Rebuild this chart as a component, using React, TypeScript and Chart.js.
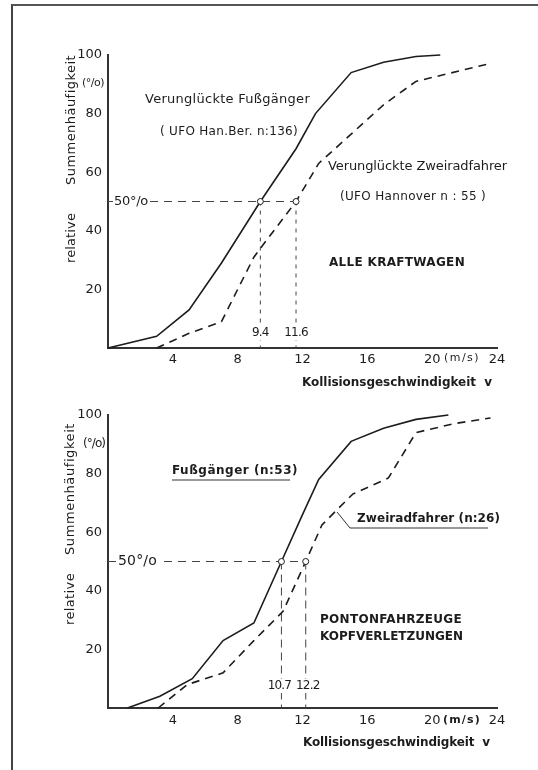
import React, { useEffect, useRef } from 'react';
import { Chart, registerables } from 'chart.js';

Chart.register(...registerables);

// ---- data ----
const xTicks = [4, 8, 12, 16, 20, 24];
const yTicks = [20, 40, 60, 80, 100];

const topPedX = [0, 3, 5, 7, 9.4, 11.6, 12.8, 15, 17, 19, 20.5];
const topPedY = [0, 4, 13, 29, 50, 68, 80, 94, 97.5, 99.5, 100];
const topCycX = [3, 5, 7, 9, 9.4, 11.6, 13, 15, 17, 19, 23.5];
const topCycY = [0, 5, 9, 31, 34, 50, 63, 73, 83, 91, 97];
const topMedians = [9.4, 11.6];
const topMedianLabels = ['9.4', '11.6'];

const botPedX = [1.2, 3.2, 5.2, 7.1, 9, 10.7, 12, 13, 15, 17, 19, 21];
const botPedY = [0, 4, 10, 23, 29, 50, 66, 78, 91, 95.5, 98.5, 100];
const botCycX = [3.1, 4.9, 7.1, 9, 10.8, 12.2, 13.2, 15.1, 17.3, 19, 21.3, 23.6];
const botCycY = [0, 8, 12, 23, 33, 50, 62.5, 73, 78.5, 94, 97, 99];
const botMedians = [10.7, 12.2];
const botMedianLabels = ['10.7', '12.2'];

const INK = '#1c1c1c';
const FONT = '"DejaVu Sans", sans-serif';

type Txt = { t: string; x0: number; x1: number; y: number; size?: number; bold?: boolean };
type Rot = { t: string; y0: number; y1: number; x: number; size?: number };

function drawFit(ctx: CanvasRenderingContext2D, t: string, x0: number, x1: number, y: number, size = 13, bold = false) {
  ctx.save();
  ctx.font = `${bold ? 'bold ' : ''}${size}px ${FONT}`;
  (ctx as any).letterSpacing = '0px';
  const w = ctx.measureText(t).width;
  let ls = (x1 - x0 - w) / Math.max(1, t.length);
  ls = Math.max(-1.5, Math.min(3, ls));
  (ctx as any).letterSpacing = `${ls}px`;
  ctx.fillStyle = INK;
  ctx.textAlign = 'left';
  ctx.textBaseline = 'middle';
  ctx.fillText(t, x0, y);
  ctx.restore();
}

interface PanelSpec {
  canvasTop: number;
  height: number;
  padTop: number;
  xAxisH: number;
  tickPad: number;
  pedX: number[];
  pedY: number[];
  cycX: number[];
  cycY: number[];
  medians: number[];
  medianLabels: string[];
  medianLabelY: number;
  medianLabelShift: number[];
  vDash: number[];
  texts: Txt[];
  rots: Rot[];
  pct: Txt;
  fifty: { x0: number; x1: number; size: number };
  decor: number[][][];
}

const panels: PanelSpec[] = [
  {
    canvasTop: 0,
    height: 390,
    padTop: 55,
    xAxisH: 42,
    tickPad: 4,
    pedX: topPedX,
    pedY: topPedY,
    cycX: topCycX,
    cycY: topCycY,
    medians: topMedians,
    medianLabels: topMedianLabels,
    medianLabelY: 333,
    medianLabelShift: [0, 0],
    vDash: [4, 5],
    texts: [
      { t: 'Verunglückte Fußgänger', x0: 145, x1: 310, y: 100, size: 13 },
      { t: '( UFO Han.Ber. n:136)', x0: 160, x1: 298, y: 132, size: 12 },
      { t: 'Verunglückte Zweiradfahrer', x0: 328, x1: 507, y: 167, size: 13 },
      { t: '(UFO Hannover n : 55 )', x0: 340, x1: 486, y: 197, size: 12 },
      { t: 'ALLE KRAFTWAGEN', x0: 329, x1: 465, y: 263, size: 12, bold: true },
      { t: '(m/s)', x0: 444, x1: 480, y: 358, size: 11 },
      { t: 'Kollisionsgeschwindigkeit  v', x0: 302, x1: 492, y: 383, size: 12, bold: true },
    ],
    rots: [
      { t: 'Summenhäufigkeit', y0: 55, y1: 185, x: 72 },
      { t: 'relative', y0: 213, y1: 263, x: 72 },
    ],
    pct: { t: '(°/o)', x0: 82, x1: 104, y: 83, size: 11 },
    fifty: { x0: 114, x1: 148, size: 13 },
    decor: [],
  },
  {
    canvasTop: 385,
    height: 385,
    padTop: 30,
    xAxisH: 62,
    tickPad: 5,
    pedX: botPedX,
    pedY: botPedY,
    cycX: botCycX,
    cycY: botCycY,
    medians: botMedians,
    medianLabels: botMedianLabels,
    medianLabelY: 686,
    medianLabelShift: [-2, 2],
    vDash: [8, 5],
    texts: [
      { t: 'Fußgänger (n:53)', x0: 172, x1: 298, y: 471, size: 12, bold: true },
      { t: 'Zweiradfahrer (n:26)', x0: 357, x1: 500, y: 519, size: 12, bold: true },
      { t: 'PONTONFAHRZEUGE', x0: 320, x1: 462, y: 620, size: 12, bold: true },
      { t: 'KOPFVERLETZUNGEN', x0: 320, x1: 463, y: 637, size: 12, bold: true },
      { t: '(m/s)', x0: 443, x1: 481, y: 720, size: 11, bold: true },
      { t: 'Kollisionsgeschwindigkeit  v', x0: 303, x1: 490, y: 743, size: 12, bold: true },
    ],
    rots: [
      { t: 'Summenhäufigkeit', y0: 423, y1: 555, x: 71 },
      { t: 'relative', y0: 573, y1: 625, x: 71 },
    ],
    pct: { t: '(°/o)', x0: 83, x1: 105, y: 444, size: 12 },
    fifty: { x0: 118, x1: 157, size: 14 },
    decor: [
      [[172, 480], [290, 480]],
      [[337, 512], [350, 528], [488, 528]],
    ],
  },
];

function PanelChart({ spec }: { spec: PanelSpec }) {
  const ref = useRef<HTMLCanvasElement>(null);
  useEffect(() => {
    const canvas = ref.current;
    if (!canvas) return;
    const off = spec.canvasTop;

    const guidePlugin = {
      id: 'guides',
      beforeDatasetsDraw(chart: any) {
        const { ctx, scales } = chart;
        const xs = scales.x;
        const ys = scales.y;
        const y50 = ys.getPixelForValue(50);
        const xMax = xs.getPixelForValue(Math.max(...spec.medians));
        ctx.save();
        ctx.strokeStyle = '#444';
        ctx.lineWidth = 1;
        ctx.setLineDash([8, 6]);
        ctx.beginPath();
        ctx.moveTo(chart.chartArea.left, y50);
        ctx.lineTo(xMax, y50);
        ctx.stroke();
        ctx.setLineDash(spec.vDash);
        spec.medians.forEach((m) => {
          const px = xs.getPixelForValue(m);
          ctx.beginPath();
          ctx.moveTo(px, y50);
          ctx.lineTo(px, chart.chartArea.bottom);
          ctx.stroke();
        });
        ctx.restore();
      },
      afterDatasetsDraw(chart: any) {
        const { ctx, scales } = chart;
        const xs = scales.x;
        const ys = scales.y;
        const y50 = ys.getPixelForValue(50);
        ctx.save();
        // median circles
        spec.medians.forEach((m) => {
          const px = xs.getPixelForValue(m);
          ctx.beginPath();
          ctx.arc(px, y50, 3, 0, Math.PI * 2);
          ctx.fillStyle = '#fff';
          ctx.fill();
          ctx.strokeStyle = INK;
          ctx.lineWidth = 1;
          ctx.stroke();
        });
        // median labels
        spec.medians.forEach((m, i) => {
          const px = xs.getPixelForValue(m) + spec.medianLabelShift[i];
          const ly = spec.medianLabelY - off;
          ctx.font = `12px ${FONT}`;
          (ctx as any).letterSpacing = '-0.8px';
          const w = ctx.measureText(spec.medianLabels[i]).width;
          ctx.fillStyle = '#fff';
          ctx.fillRect(px - w / 2 - 1, ly - 7, w + 2, 14);
          ctx.fillStyle = INK;
          ctx.textAlign = 'center';
          ctx.textBaseline = 'middle';
          ctx.fillText(spec.medianLabels[i], px, ly);
          (ctx as any).letterSpacing = '0px';
        });
        // 50% label
        ctx.fillStyle = '#fff';
        ctx.fillRect(spec.fifty.x0 - 1, y50 - 9, spec.fifty.x1 - spec.fifty.x0 + 2, 18);
        drawFit(ctx, '50°/o', spec.fifty.x0, spec.fifty.x1, y50, spec.fifty.size);
        // texts
        spec.texts.forEach((t) => drawFit(ctx, t.t, t.x0, t.x1, t.y - off, t.size, t.bold));
        drawFit(ctx, spec.pct.t, spec.pct.x0, spec.pct.x1, spec.pct.y - off, spec.pct.size);
        // rotated titles
        spec.rots.forEach((r) => {
          ctx.save();
          ctx.translate(r.x, r.y1 - off);
          ctx.rotate(-Math.PI / 2);
          drawFit(ctx, r.t, 0, r.y1 - r.y0, 0, r.size ?? 13);
          ctx.restore();
        });
        // decorative lines
        ctx.strokeStyle = '#333';
        ctx.lineWidth = 1;
        ctx.setLineDash([]);
        spec.decor.forEach((pl) => {
          ctx.beginPath();
          pl.forEach((p, i) => (i === 0 ? ctx.moveTo(p[0], p[1] - off) : ctx.lineTo(p[0], p[1] - off)));
          ctx.stroke();
        });
        ctx.restore();
      },
    };

    const tickFont = { family: FONT, size: 13 };
    const chart = new Chart(canvas, {
      type: 'line',
      data: {
        datasets: [
          {
            data: spec.pedX.map((x, i) => ({ x, y: spec.pedY[i] })),
            borderColor: INK,
            borderWidth: 1.6,
            pointRadius: 0,
            tension: 0,
            fill: false,
            clip: false as any,
          },
          {
            data: spec.cycX.map((x, i) => ({ x, y: spec.cycY[i] })),
            borderColor: INK,
            borderWidth: 1.6,
            borderDash: [8, 6],
            pointRadius: 0,
            tension: 0,
            fill: false,
            clip: false as any,
          },
        ],
      },
      options: {
        animation: false,
        responsive: false,
        devicePixelRatio: 1,
        layout: { padding: { left: 0, right: 41, top: spec.padTop, bottom: 0 } },
        plugins: { legend: { display: false }, tooltip: { enabled: false } },
        scales: {
          x: {
            type: 'linear',
            min: 0,
            max: 24,
            afterBuildTicks: (s: any) => {
              s.ticks = xTicks.map((v) => ({ value: v }));
            },
            afterFit: (s: any) => {
              s.height = spec.xAxisH;
            },
            grid: { display: false, drawTicks: false },
            border: { display: true, color: '#333', width: 2 },
            ticks: { font: tickFont, color: INK, padding: spec.tickPad, maxRotation: 0, autoSkip: false },
          },
          y: {
            type: 'linear',
            min: 0,
            max: 100,
            afterBuildTicks: (s: any) => {
              s.ticks = yTicks.map((v) => ({ value: v }));
            },
            afterFit: (s: any) => {
              s.width = 108;
            },
            grid: { display: false, drawTicks: false },
            border: { display: true, color: '#333', width: 2 },
            ticks: { font: tickFont, color: INK, padding: 6, autoSkip: false },
          },
        },
      } as any,
      plugins: [guidePlugin],
    });
    return () => chart.destroy();
  }, [spec]);

  return (
    <canvas
      ref={ref}
      width={538}
      height={spec.height}
      style={{ position: 'absolute', left: 0, top: spec.canvasTop, width: 538, height: spec.height }}
    />
  );
}

export default function App() {
  return (
    <div style={{ position: 'absolute', left: 0, top: 0, width: 538, height: 770, background: '#fff', overflow: 'hidden' }}>
      <PanelChart spec={panels[1]} />
      <PanelChart spec={panels[0]} />
      <div
        style={{
          position: 'absolute',
          left: 11,
          top: 4,
          width: 540,
          height: 780,
          borderTop: '2px solid #555',
          borderLeft: '2px solid #444',
          pointerEvents: 'none',
        }}
      />
    </div>
  );
}
